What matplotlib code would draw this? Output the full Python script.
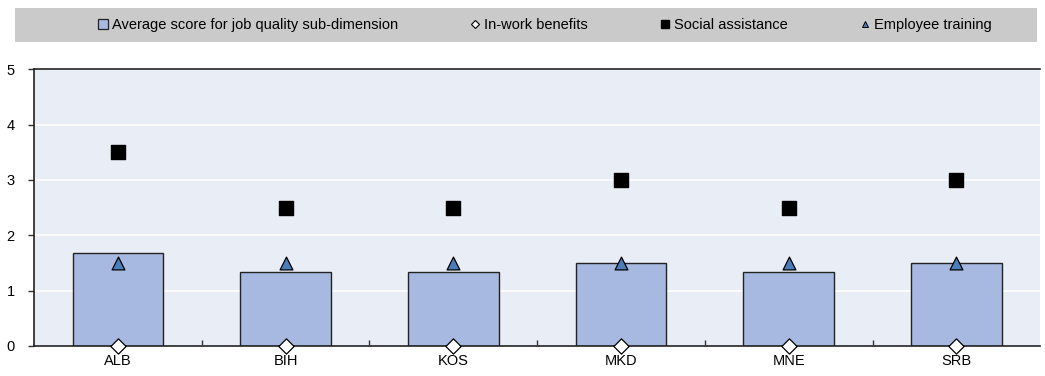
import matplotlib
matplotlib.use('Agg')
import matplotlib.pyplot as plt
from matplotlib.patches import Rectangle
from matplotlib.lines import Line2D
import numpy as np

plt.rcParams['font.family'] = ['Liberation Sans', 'DejaVu Sans']

economies   = ['ALB', 'BIH', 'KOS', 'MKD', 'MNE', 'SRB']
avg_score   = [1.67, 1.33, 1.33, 1.5, 1.33, 1.5]
in_work     = [0, 0, 0, 0, 0, 0]
social_asst = [3.5, 2.5, 2.5, 3.0, 2.5, 3.0]
emp_train   = [1.5, 1.5, 1.5, 1.5, 1.5, 1.5]

BG    = '#E9EDF6'
BAR   = '#A7B8E1'
TRI   = '#4A7EBB'
TXT   = '#000000'
FS    = 10.5

fig = plt.figure(figsize=(10.45, 3.76), dpi=100)
ax = fig.add_axes([0.0325, 0.080, 0.963, 0.736])
ax.set_facecolor(BG)

x = np.arange(len(economies))
ax.bar(x, avg_score, width=0.54, color=BAR, edgecolor='#222222', lw=1.0, zorder=2)
ax.scatter(x, social_asst, marker='s', s=100, color='black', zorder=4, clip_on=False)
ax.scatter(x, emp_train, marker='^', s=85, color=TRI, edgecolor='black', lw=0.9, zorder=4)
ax.scatter(x, in_work, marker='D', s=60, color='white', edgecolor='black', lw=0.9,
           zorder=5, clip_on=False)

ax.set_xlim(-0.5, len(economies) - 0.5)
ax.set_ylim(0, 5)
ax.set_yticks(range(0, 6))
ax.yaxis.grid(True, color='white', lw=1.2, zorder=0)
ax.set_axisbelow(True)

ax.set_xticks(x)
ax.set_xticklabels(economies, fontsize=FS, color=TXT)
ax.tick_params(axis='x', length=0, pad=6)
ax.set_xticks(x[:-1] + 0.5, minor=True)
ax.tick_params(axis='x', which='minor', direction='in', length=4, width=1, color='#333333')
ax.tick_params(axis='y', labelsize=FS, length=4, width=1, color='#333333', pad=10)

for side in ['left', 'top', 'bottom']:
    ax.spines[side].set_color('#222222')
    ax.spines[side].set_linewidth(1.2)
ax.spines['right'].set_visible(False)

# legend band
fig.patches.append(Rectangle((15 / 1045, 1 - 42 / 376), 1022 / 1045, 34 / 376,
                             transform=fig.transFigure, facecolor='#CACACA',
                             edgecolor='none', zorder=0))
handles = [
    Line2D([], [], marker='s', ls='none', markersize=7, markerfacecolor=BAR,
           markeredgecolor='#222222', markeredgewidth=0.9),
    Line2D([], [], marker='D', ls='none', markersize=4, markerfacecolor='white',
           markeredgecolor='black', markeredgewidth=0.8),
    Line2D([], [], marker='s', ls='none', markersize=6, color='black'),
    Line2D([], [], marker='^', ls='none', markersize=5, markerfacecolor=TRI,
           markeredgecolor='black', markeredgewidth=0.7),
]
labels = ['Average score for job quality sub-dimension', 'In-work benefits',
          'Social assistance', 'Employee training']
legend_x = [97, 469, 659, 859]
for h, lab, lx in zip(handles, labels, legend_x):
    fig.legend([h], [lab], loc='center left', bbox_to_anchor=(lx / 1045, 1 - 25 / 376),
               frameon=False, fontsize=FS, handlelength=0.8, handletextpad=0.2,
               borderaxespad=0, borderpad=0)

fig.savefig('out.png', dpi=100)
